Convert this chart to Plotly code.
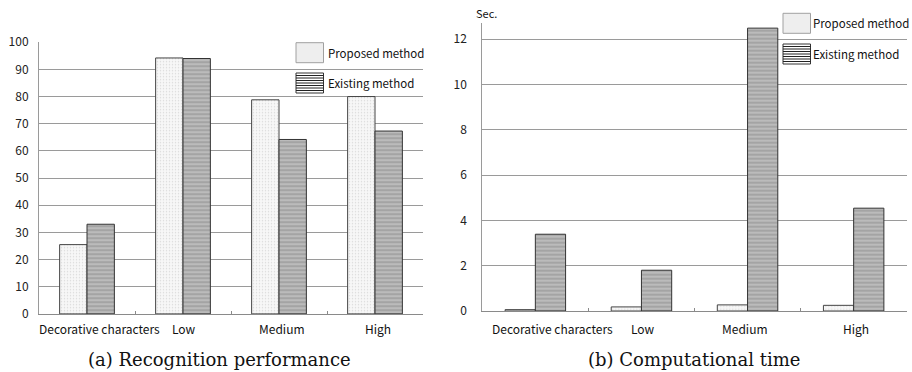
import plotly.graph_objects as go

# ---------------- data ----------------
categories = ["Decorative characters", "Low", "Medium", "High"]
series_names = ["Proposed method", "Existing method"]
recognition_proposed = [25.5, 94.2, 78.8, 80.0]
recognition_existing = [33.0, 94.0, 64.2, 67.3]
time_proposed = [0.06, 0.18, 0.27, 0.25]
time_existing = [3.39, 1.80, 12.49, 4.54]
recog_ticks = [0, 10, 20, 30, 40, 50, 60, 70, 80, 90, 100]
time_ticks = [0, 2, 4, 6, 8, 10, 12]
captions = ["(a) Recognition performance", "(b) Computational time"]
time_unit = "Sec."

# ---------------- helpers ----------------
W, H = 912, 372
def px(x):
    return x / W
def py(y):
    return 1 - y / H

FONT = "Noto Sans CJK JP"
GRID = "#9a9a9a"

prop_style = dict(
    color="#f3f3f3",
    line=dict(color="#444444", width=1),
    pattern=dict(shape=".", fgcolor="#bdbdbd", bgcolor="#f7f7f7", size=3, solidity=0.2),
)
exist_style = dict(
    color="#a8a8a8",
    line=dict(color="#333333", width=1),
    pattern=dict(shape="-", fgcolor="#f2f2f2", bgcolor="#a4a4a4", size=4, solidity=0.3),
)

fig = go.Figure()
fig.add_trace(go.Bar(x=categories, y=recognition_proposed, name=series_names[0],
                     marker=prop_style, xaxis="x", yaxis="y", showlegend=False))
fig.add_trace(go.Bar(x=categories, y=recognition_existing, name=series_names[1],
                     marker=exist_style, xaxis="x", yaxis="y", showlegend=False))
fig.add_trace(go.Bar(x=categories, y=time_proposed, name=series_names[0],
                     marker=prop_style, xaxis="x2", yaxis="y2", showlegend=False))
fig.add_trace(go.Bar(x=categories, y=time_existing, name=series_names[1],
                     marker=exist_style, xaxis="x2", yaxis="y2", showlegend=False))

xcommon = dict(type="category", showgrid=False, showline=True, linecolor="#8a8a8a",
               linewidth=1, ticks="inside", ticklen=3, tickcolor="#8a8a8a",
               tickson="boundaries", showticklabels=False, range=[-0.5, 3.5],
               fixedrange=True, automargin=False)
ycommon = dict(showgrid=True, gridcolor=GRID, gridwidth=1, showline=True,
               linecolor="#9a9a9a", linewidth=1, zeroline=False,
               ticks="outside", ticklen=0, automargin=False,
               tickfont=dict(family=FONT, size=12, color="#222222"))

fig.update_layout(
    width=W, height=H,
    margin=dict(l=0, r=0, t=0, b=0, pad=0, autoexpand=False),
    paper_bgcolor="white", plot_bgcolor="white",
    barmode="group", bargap=0.43, bargroupgap=0,
    showlegend=False,
    xaxis=dict(domain=[px(39), px(423)], anchor="y", **xcommon),
    yaxis=dict(domain=[py(313.9), py(42.2)], anchor="x", range=[0, 100],
               tickvals=recog_ticks, ticklabelstandoff=7, **ycommon),
    xaxis2=dict(domain=[px(482.3), px(906.7)], anchor="y2", **xcommon),
    yaxis2=dict(domain=[py(311), py(22.7)], anchor="x2", range=[0, 12.73],
                tickvals=time_ticks, ticklabelstandoff=12, **ycommon),
)

annotations = []
shapes = []

# category labels
label_offsets_a = [0.135, 0.01, 0.03, 0.03]
label_offsets_b = [0.157, 0.015, -0.025, 0.02]
for i, c in enumerate(categories):
    annotations.append(dict(x=i + label_offsets_a[i], xref="x", y=py(328), yref="paper",
                            text=c, showarrow=False, xanchor="center", yanchor="middle",
                            font=dict(family=FONT, size=12, color="#111111")))
    annotations.append(dict(x=i + label_offsets_b[i], xref="x2", y=py(328), yref="paper",
                            text=c, showarrow=False, xanchor="center", yanchor="middle",
                            font=dict(family=FONT, size=12, color="#111111")))

# legends (drawn as boxes + text)
def legend(x0, y_prop, y_exist, tx):
    w, h = 27.5, 20
    shapes.append(dict(type="rect", xref="paper", yref="paper",
                       x0=px(x0), x1=px(x0 + w), y0=py(y_prop), y1=py(y_prop + h),
                       fillcolor="#eeeeee", line=dict(color="#a0a0a0", width=1)))
    shapes.append(dict(type="rect", xref="paper", yref="paper",
                       x0=px(x0), x1=px(x0 + w), y0=py(y_exist), y1=py(y_exist + h),
                       fillcolor="white", line=dict(color="#333333", width=1)))
    k = 1
    while k * 2.5 < h:
        yy = y_exist + k * 2.5
        shapes.append(dict(type="line", xref="paper", yref="paper",
                           x0=px(x0), x1=px(x0 + w), y0=py(yy), y1=py(yy),
                           line=dict(color="#222222", width=1)))
        k += 1
    annotations.append(dict(x=px(tx), y=py(y_prop + h / 2), xref="paper", yref="paper",
                            text=series_names[0], showarrow=False, xanchor="left",
                            yanchor="middle", font=dict(family=FONT, size=11.5, color="#111111")))
    annotations.append(dict(x=px(tx), y=py(y_exist + h / 2), xref="paper", yref="paper",
                            text=series_names[1], showarrow=False, xanchor="left",
                            yanchor="middle", font=dict(family=FONT, size=11.5, color="#111111")))

legend(296, 42.7, 73, 326)
legend(783, 13.3, 44, 811)

# unit label
annotations.append(dict(x=px(487), y=py(13), xref="paper", yref="paper", text=time_unit,
                        showarrow=False, xanchor="center", yanchor="middle",
                        font=dict(family=FONT, size=11, color="#111111")))

# captions
annotations.append(dict(x=px(219), y=py(359), xref="paper", yref="paper", text=captions[0],
                        showarrow=False, xanchor="center", yanchor="middle",
                        font=dict(family="DejaVu Serif", size=18, color="#111111")))
annotations.append(dict(x=px(694), y=py(359), xref="paper", yref="paper", text=captions[1],
                        showarrow=False, xanchor="center", yanchor="middle",
                        font=dict(family="DejaVu Serif", size=18, color="#111111")))

fig.update_layout(annotations=annotations, shapes=shapes)

fig.write_html(
    "out.html",
    config={"displayModeBar": False, "staticPlot": True},
    post_script="document.body.style.margin='0';document.body.style.padding='0';"
                "document.body.style.overflow='hidden';",
)
